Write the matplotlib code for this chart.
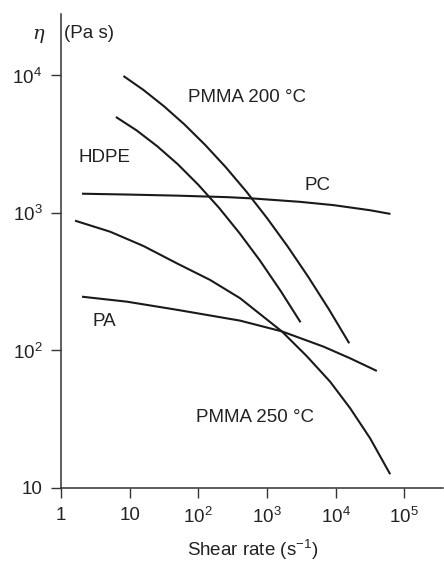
import numpy as np
import matplotlib
matplotlib.use("Agg")
import matplotlib.pyplot as plt

plt.rcParams['font.family'] = ['Liberation Sans', 'DejaVu Sans']
plt.rcParams['mathtext.fontset'] = 'custom'
plt.rcParams['mathtext.rm'] = 'Liberation Sans'
plt.rcParams['mathtext.it'] = 'Liberation Sans:italic'

# Viscosity curves, as log10 values
# (shear rate in 1/s, viscosity in Pa s)
pmma200_log_rate = [0.91, 1.2, 1.5, 1.8, 2.1, 2.4, 2.7, 3.0, 3.3, 3.6, 3.9, 4.2]
pmma200_log_eta = [3.996, 3.895, 3.776, 3.643, 3.495, 3.333, 3.156, 2.964,
                   2.758, 2.537, 2.302, 2.052]

hdpe_log_rate = [0.8, 1.1, 1.4, 1.7, 2.0, 2.3, 2.6, 2.9, 3.2, 3.49]
hdpe_log_eta = [3.698, 3.601, 3.486, 3.355, 3.205, 3.039, 2.854, 2.653,
                2.433, 2.205]

pc_log_rate = [0.306, 0.96, 1.69, 2.42, 2.78, 3.48, 3.97, 4.5, 4.8]
pc_log_eta = [3.140, 3.134, 3.126, 3.115, 3.106, 3.081, 3.057, 3.020, 2.993]

pmma250_log_rate = [0.204, 0.714, 1.2, 1.687, 2.172, 2.609, 3.217, 3.582,
                    3.921, 4.213, 4.504, 4.796]
pmma250_log_eta = [2.944, 2.864, 2.760, 2.634, 2.513, 2.380, 2.139, 1.958,
                   1.773, 1.580, 1.361, 1.100]

pa_log_rate = [0.306, 0.958, 1.687, 2.609, 3.217, 3.824, 4.213, 4.602]
pa_log_eta = [2.391, 2.355, 2.296, 2.217, 2.139, 2.028, 1.943, 1.851]

series = [
    (pmma200_log_rate, pmma200_log_eta),
    (hdpe_log_rate, hdpe_log_eta),
    (pc_log_rate, pc_log_eta),
    (pmma250_log_rate, pmma250_log_eta),
    (pa_log_rate, pa_log_eta),
]

x_ticks = [1, 10, 1e2, 1e3, 1e4, 1e5]
x_labels = ['1', '10', r'$\mathregular{10^2}$', r'$\mathregular{10^3}$',
            r'$\mathregular{10^4}$', r'$\mathregular{10^5}$']
y_ticks = [10, 1e2, 1e3, 1e4]
y_labels = ['10', r'$\mathregular{10^2}$', r'$\mathregular{10^3}$', r'$\mathregular{10^4}$']

fig = plt.figure(figsize=(4.44, 5.64), dpi=100)
ax = fig.add_axes([0.1374, 0.1348, 0.861, 0.8404])

for lr, le in series:
    ax.plot(10 ** np.array(lr), 10 ** np.array(le), color='#1a1a1a', lw=1.5,
            solid_capstyle='butt', solid_joinstyle='round')

ax.set_xscale('log')
ax.set_yscale('log')
ax.set_xlim(1, 10 ** 5.57)
ax.set_ylim(10, 10 ** 4.447)

ax.set_xticks(x_ticks)
ax.set_xticklabels(x_labels)
ax.set_yticks(y_ticks)
ax.set_yticklabels(y_labels)
ax.minorticks_off()
ax.tick_params(direction='out', length=7.5, width=1.0, color='#333333',
               labelsize=13.5, labelcolor='#222222', pad=6)

for s in ['top', 'right']:
    ax.spines[s].set_visible(False)
for s in ['left', 'bottom']:
    ax.spines[s].set_color('#333333')
    ax.spines[s].set_linewidth(1.1)

ax.set_xlabel(r'Shear rate $\mathregular{(s^{-1})}$', fontsize=13.5,
              color='#222222', labelpad=8)

# axis unit text at the top
fig.text(38 / 444, 1 - 34 / 564, 'η', fontsize=14, family='DejaVu Serif',
         style='italic', ha='center', va='center', color='#222222')
fig.text(64 / 444, 1 - 34 / 564, '(Pa s)', fontsize=13.5, ha='left',
         va='center', color='#222222')

# curve names
labels = [
    ('PMMA 200 °C', 188, 97),
    ('HDPE', 79, 157),
    ('PC', 304, 185),
    ('PA', 92, 321),
    ('PMMA 250 °C', 196, 418),
]
for txt, px, py in labels:
    fig.text(px / 444, 1 - py / 564, txt, fontsize=13.5, ha='left',
             va='center', color='#222222')

fig.savefig('out.png', dpi=100)
